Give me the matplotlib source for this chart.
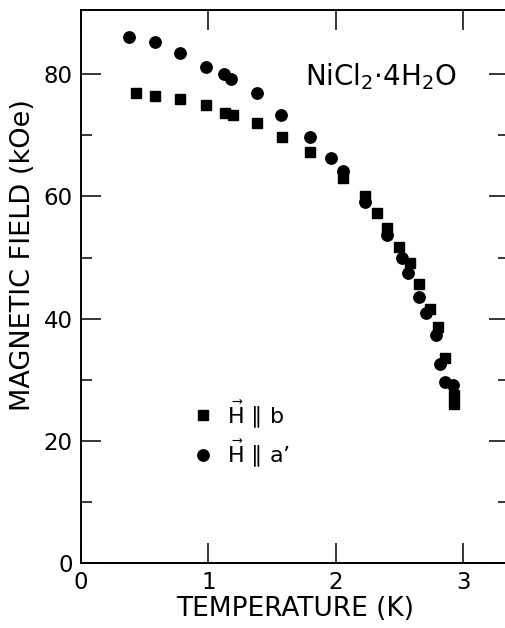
import matplotlib
matplotlib.use("Agg")
import matplotlib.pyplot as plt

# Campo crítico de NiCl2·4H2O: H paralelo a b (cuadrados) y a a' (círculos)
temp_b = [0.43, 0.58, 0.78, 0.98, 1.13, 1.19, 1.38, 1.58, 1.80, 2.06,
          2.23, 2.32, 2.40, 2.50, 2.58, 2.65, 2.74, 2.80, 2.86, 2.93, 2.93]
campo_b = [77.0, 76.5, 75.9, 75.0, 73.7, 73.4, 72.0, 69.8, 67.2, 63.0,
           60.0, 57.3, 54.9, 51.8, 49.1, 45.6, 41.5, 38.6, 33.6, 27.5, 26.1]

temp_a = [0.38, 0.58, 0.78, 0.98, 1.12, 1.18, 1.38, 1.57, 1.80, 1.96,
          2.06, 2.23, 2.40, 2.52, 2.57, 2.65, 2.71, 2.79, 2.82, 2.86, 2.92]
campo_a = [86.1, 85.2, 83.4, 81.2, 80.0, 79.2, 76.9, 73.3, 69.8, 66.3,
           64.2, 59.1, 53.7, 50.0, 47.5, 43.6, 40.9, 37.3, 32.6, 29.7, 29.1]

etiquetas = [r"$\vec{\mathrm{H}}$" + " \u2225 b",
             r"$\vec{\mathrm{H}}$" + " \u2225 a\u2019"]

plt.rcParams["font.family"] = ["DejaVu Sans"]
plt.rcParams["mathtext.fontset"] = "dejavusans"

fig = plt.figure(figsize=(5.06, 6.28), dpi=100)
ax = fig.add_axes([0.160, 0.1035, 0.846, 0.8805])

ax.plot(temp_b, campo_b, linestyle="none", marker="s", ms=7.5, color="black",
        label=etiquetas[0])
ax.plot(temp_a, campo_a, linestyle="none", marker="o", ms=8.2, color="black",
        label=etiquetas[1])

ax.set_xlim(0, 3.36)
ax.set_ylim(0, 90.5)
ax.set_xticks([0, 1, 2, 3])
ax.set_yticks([0, 20, 40, 60, 80])
ax.set_yticks([10, 30, 50, 70], minor=True)

for lado in ax.spines.values():
    lado.set_linewidth(1.4)

ax.tick_params(which="both", direction="in", top=True, right=True, width=1.1,
               labelsize=16.5)
ax.tick_params(which="major", length=14.5)
ax.tick_params(which="minor", length=8)
ax.tick_params(axis="x", pad=6)
ax.tick_params(axis="y", pad=6)

ax.set_xlabel("TEMPERATURE (K)", fontsize=19, labelpad=1)
ax.set_ylabel("MAGNETIC FIELD (kOe)", fontsize=19.5)
ax.yaxis.set_label_coords(-0.105, 0.557)

ax.text(0.523, 0.864, r"NiCl$_2$$\cdot$4H$_2$O", transform=ax.transAxes,
        fontsize=20, va="baseline", ha="left")

ax.legend(loc="center left", bbox_to_anchor=(0.259, 0.234), frameon=False,
          fontsize=16, handlelength=1.0, handletextpad=0.6, labelspacing=0.35,
          borderpad=0, borderaxespad=0)

fig.savefig("out.png", dpi=100)
